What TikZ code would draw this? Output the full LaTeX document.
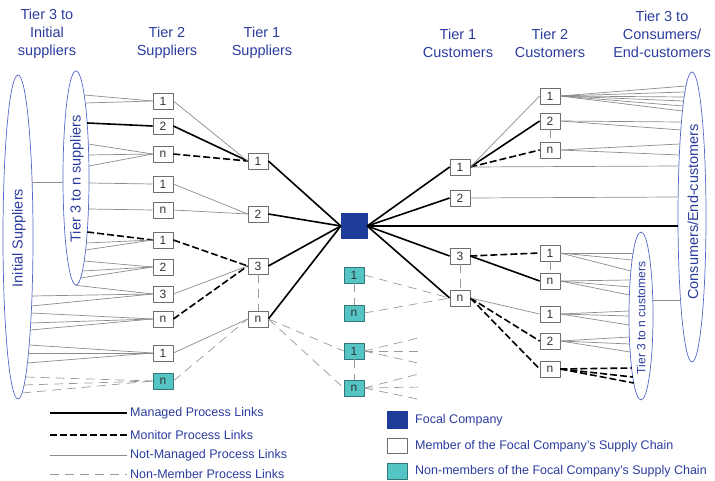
\documentclass[tikz,border=0pt]{standalone}
\usepackage{fontspec}
\setmainfont{Liberation Sans}
\usepackage{tikz}
\usetikzlibrary{calc,shapes.geometric}
\definecolor{HdrBlue}{HTML}{2B3C9E}
\definecolor{EllBlue}{HTML}{5566CC}
\definecolor{FocalBlue}{HTML}{1E3C99}
\definecolor{TealNM}{HTML}{55C4C4}
\definecolor{BoxGray}{HTML}{6E6E6E}

\begin{document}
\begin{tikzpicture}[x=1pt,y=-1pt,line join=round,
 mlink/.style={line width=1.6pt},
 molink/.style={line width=1.6pt,dash pattern=on 7pt off 3pt},
 nlink/.style={line width=.7pt,draw=black!45},
 xlink/.style={line width=.7pt,draw=black!40,dash pattern=on 9pt off 6pt},
 mbox/.style={draw=BoxGray,fill=white,line width=.7pt,minimum width=20pt,minimum height=16pt,
   inner sep=0pt,text=black!80,font=\fontsize{12}{12}\selectfont},
 tbox/.style={mbox,fill=TealNM,draw=TealNM!60!black},
 hdr/.style={text=HdrBlue,align=center,font=\fontsize{14.5}{18}\selectfont},
 lgtxt/.style={text=HdrBlue,anchor=west,inner sep=3pt,font=\fontsize{12.5}{14}\selectfont},
 tierell/.style={ellipse,draw=EllBlue,line width=.7pt,inner sep=0pt}]
\useasboundingbox (0,0) rectangle (715,481);

% column heads
\node[hdr] (hT3s) at (47,34) {Tier 3 to\\Initial\\suppliers};
\node[hdr] (hT2s) at (167,43) {Tier 2\\Suppliers};
\node[hdr] (hT1s) at (262,43) {Tier 1\\Suppliers};
\node[hdr] (hT1c) at (458,43) {Tier 1\\Customers};
\node[hdr] (hT2c) at (550,43) {Tier 2\\Customers};
\node[hdr] (hT3c) at (662,34) {Tier 3 to\\Consumers/\\End-customers};

% outer tiers
\node[tierell,minimum width=30pt,minimum height=324pt] (elIS) at (18,237) {};
\node[tierell,minimum width=26pt,minimum height=214pt] (elTS) at (76,178) {};
\node[tierell,minimum width=28pt,minimum height=290pt] (elCE) at (692,217) {};
\node[tierell,minimum width=24pt,minimum height=168pt] (elTC) at (641,316) {};
\node[hdr,rotate=90] (lbIS) at (19,238) {Initial Suppliers};
\node[hdr,rotate=90] (lbTS) at (77,179) {Tier 3 to n suppliers};
\node[hdr,rotate=90] (lbCE) at (693,212) {Consumers/End-customers};
\node[hdr,rotate=90,font=\fontsize{12}{14}\selectfont] (lbTC) at (641,318) {Tier 3 to n customers};

% companies
\foreach \n/\y/\t in {s2a/101/1,s2b/126/2,s2c/154/n,s2d/184/1,s2e/210/n,s2f/240/1,s2g/267/2,s2h/294/3,s2i/319/n,s2j/353/1}
  \node[mbox] (\n) at (163,\y) {\t};
\node[tbox] (s2k) at (163,381) {n};
\foreach \n/\y/\t in {s1a/161/1,s1b/214/2,s1c/266/3,s1d/319/n}
  \node[mbox] (\n) at (258,\y) {\t};
\node[draw=FocalBlue,fill=FocalBlue,minimum width=26pt,minimum height=25pt,inner sep=0pt] (fc) at (354,226) {};
\foreach \n/\y/\t in {m1/275/1,m2/313/n,m3/351/1,m4/388/n}
  \node[tbox] (\n) at (354,\y) {\t};
\foreach \n/\y/\t in {c1a/167/1,c1b/198/2,c1c/256/3,c1d/298/n}
  \node[mbox] (\n) at (460,\y) {\t};
\foreach \n/\y/\t in {c2a/96/1,c2b/121/2,c2c/150/n,c2d/253/1,c2e/281/n,c2f/314/1,c2g/341/2,c2h/369/n}
  \node[mbox] (\n) at (550,\y) {\t};

% links between companies
\foreach \a/\b in {s2b/s1a,s1a/fc,s1b/fc,s1c/fc,s1d/fc,fc/c1a,fc/c1b,fc/c1c,fc/c1d,c1a/c2b,c1c/c2e}
  \draw[mlink] (\a.east) -- (\b.west);
\foreach \a/\b in {s2c/s1a,s2f/s1c,s2i/s1c,c1a/c2c,c1c/c2d,c1d/c2g,c1d/c2h}
  \draw[molink] (\a.east) -- (\b.west);
\foreach \a/\b in {s2a/s1a,s2d/s1b,s2e/s1b,s2h/s1c,s2j/s1d,c1a/c2a,c1d/c2f}
  \draw[nlink] (\a.east) -- (\b.west);
\foreach \a/\b in {s2k/s1d,s1d/m3,s1d/m4,m1/c1d,m2/c1d}
  \draw[xlink] (\a.east) -- (\b.west);
\foreach \a/\b in {s1c/s1d,m1/m2,m3/m4,c1c/c1d,c2b/c2c,c2d/c2e}
  \draw[xlink] (\a.south) -- (\b.north);

% fans into the tier 3 ellipses
\foreach \b/\y/\s in {s2a/95/nlink,s2a/103/nlink,s2b/123/mlink,s2c/144/nlink,s2c/155/nlink,s2c/166/nlink,
  s2d/183/nlink,s2e/209/nlink,s2f/232/molink,s2f/243/nlink,s2f/250/nlink,s2g/261/nlink,s2g/271/nlink,s2g/278/nlink}
  \draw[\s] ($(elTS)+({13*sqrt(1-((\y-178)/107)^2)},\y-178)$) -- (\b.west);
\draw[nlink] (elTS.south) -- (s2h.west);
\foreach \b/\y/\s in {s2h/296/nlink,s2h/306/nlink,s2i/313/nlink,s2i/323/nlink,s2i/330/nlink,
  s2j/345/nlink,s2j/353/nlink,s2j/363/nlink,s2k/377/xlink,s2k/385/xlink,s2k/393/xlink}
  \draw[\s] ($(elIS)+({15*sqrt(1-((\y-237)/162)^2)},\y-237)$) -- (\b.west);
\draw[nlink] ($(elIS)+({15*sqrt(1-(55/162)^2)},-55)$) -- ($(elTS)+({-13*sqrt(1-(4/107)^2)},4)$);
\foreach \b/\y/\s in {c2a/86/nlink,c2a/92/nlink,c2a/97/nlink,c2a/101/nlink,c2a/106/nlink,c2a/111/nlink,
  c2b/122/nlink,c2b/130/nlink,c2c/144/nlink,c2c/155/nlink,c1a/166/nlink,c1b/197/nlink,fc/226/mlink}
  \draw[\s] (\b.east) -- ($(elCE)+({-14*sqrt(1-((\y-217)/145)^2)},\y-217)$);
\foreach \b/\y/\s in {c2d/253/nlink,c2d/260/nlink,c2d/271/nlink,c2e/280/nlink,c2e/287/nlink,c2e/295/nlink,
  c2f/311/nlink,c2f/316/nlink,c2f/325/nlink,c2g/337/nlink,c2g/344/nlink,c2g/352/nlink,
  c2h/368/molink,c2h/377/molink,c2h/383/molink}
  \draw[\s] (\b.east) -- ($(elTC)+({-12*sqrt(1-((\y-316)/84)^2)},\y-316)$);
\draw[nlink] ($(elTC)+({12*sqrt(1-(16/84)^2)},-16)$) -- ($(elCE)+({-14*sqrt(1-(83/145)^2)},83)$);

% non-members reaching out
\foreach \b/\dy [count=\i] in {m3/-14,m3/0,m3/13,m4/-15,m4/-1,m4/12}{
  \coordinate (fx\i) at ($(\b.east)+(58,\dy)$);
  \draw[xlink] (\b.east) -- (fx\i);
}

% legend
\node[lgtxt] (lgM) at (127,413) {Managed Process Links};
\node[lgtxt] (lgMo) at (127,435) {Monitor Process Links};
\node[lgtxt] (lgN) at (127,455) {Not-Managed Process Links};
\node[lgtxt] (lgX) at (127,474) {Non-Member Process Links};
\coordinate (lgM0) at (50,413);
\coordinate (lgMo0) at (50,435);
\coordinate (lgN0) at (50,455);
\coordinate (lgX0) at (50,474);
\draw[mlink] (lgM0) -- (lgM.west);
\draw[molink] (lgMo0) -- (lgMo.west);
\draw[nlink] (lgN0) -- (lgN.west);
\draw[xlink] (lgX0) -- (lgX.west);
\node[mbox,fill=FocalBlue,draw=FocalBlue,minimum height=17pt] (lgF) at (397,420) {};
\node[mbox,minimum height=15pt] (lgW) at (397,446) {};
\node[tbox] (lgT) at (397,471) {};
\node[lgtxt] (lgFt) at (412,420) {Focal Company};
\node[lgtxt] (lgWt) at (412,446) {Member of the Focal Company's Supply Chain};
\node[lgtxt] (lgTt) at (412,471) {Non-members of the Focal Company's Supply Chain};
\end{tikzpicture}
\end{document}
